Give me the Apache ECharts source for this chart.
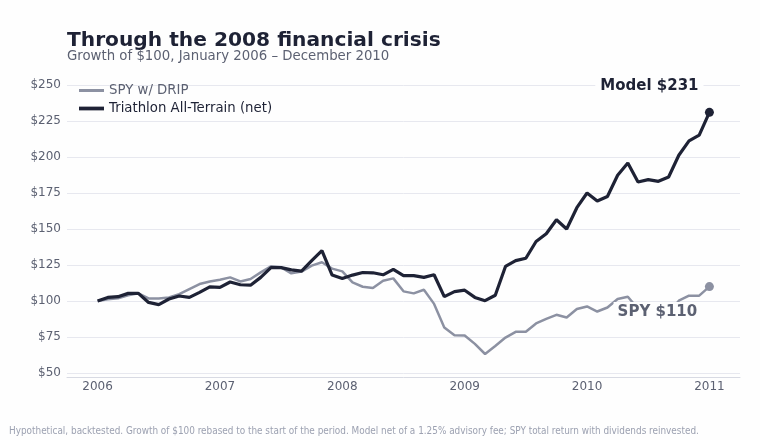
<!DOCTYPE html>
<html>
<head>
<meta charset="utf-8">
<script src="https://cdn.jsdelivr.net/npm/echarts@6/dist/echarts.min.js"></script>
<style>
html,body{margin:0;padding:0;background:#fefefe;}
#c{width:760px;height:440px;}
</style>
</head>
<body>
<div id="c"></div>
<script>
// Month index 0 = start of Jan 2006 (rebased $100), 60 = end of Dec 2010
var startYear = 2006;

var modelName = 'Triathlon All-Terrain (net)';
var spyName = 'SPY w/ DRIP';

var modelValues = [
  100, 102.5, 103, 105.3, 105.3, 99, 97.5, 101.4, 103.5, 102.5, 106, 109.8,
  109.4, 113.2, 111.3, 111, 116.4, 123.2, 123.2, 121.6, 120.8, 128, 135, 118,
  115.6, 118, 119.8, 119.6, 118.2, 122, 117.6, 117.6, 116.4, 118.2, 103, 106.5,
  107.5, 102.5, 100.2, 104, 124, 128, 129.7, 141.3, 146.7, 156.4, 150, 164.8,
  175, 169.4, 172.6, 187.3, 195.9, 182.6, 184.3, 183.1, 186.1, 201.2, 211.2, 215.2,
  231
];

var spyValues = [
  100, 101.2, 101.9, 104, 105.3, 101.8, 101.8, 102.5, 104.8, 108.3, 111.8, 113.6,
  114.8, 116.4, 113.6, 115.3, 119.9, 124.1, 123.4, 119.2, 120.4, 124.6, 126.9, 122.5,
  120.6, 112.9, 109.9, 109, 114.1, 115.7, 106.7, 105.3, 107.8, 98, 81.6, 76.2,
  76.1, 70.2, 63.2, 68.8, 74.6, 78.6, 78.6, 84.4, 87.6, 90.4, 88.5, 94.4,
  96.2, 92.7, 95.5, 101.4, 103, 94.5, 89, 96, 92, 100.2, 103.7, 103.7,
  110
];

var yearTicks = [2006, 2007, 2008, 2009, 2010, 2011];

var FONT = 'DejaVu Sans';
var DARK = '#1e2235';
var GRAY_LINE = '#8c91a2';
var MUTED = '#5c6172';

function pairs(vals) {
  var out = [];
  for (var i = 0; i < vals.length; i++) out.push([startYear + i / 12, vals[i]]);
  return out;
}
var modelData = pairs(modelValues);
var spyData = pairs(spyValues);
var mLast = modelData[modelData.length - 1];
var sLast = spyData[spyData.length - 1];

var chart = echarts.init(document.getElementById('c'), null, {renderer: 'canvas'});
chart.setOption({
  animation: false,
  backgroundColor: '#fefefe',
  textStyle: {fontFamily: FONT},
  title: [
    {text: 'Through the 2008 financial crisis', left: 67, top: 31, padding: 0,
     textStyle: {fontFamily: FONT, fontSize: 20.2, fontWeight: 'bold', color: DARK}},
    {text: 'Growth of $100, January 2006 \u2013 December 2010', left: 67, top: 50, padding: 0,
     textStyle: {fontFamily: FONT, fontSize: 13.3, fontWeight: 'normal', color: MUTED}},
    {text: 'Hypothetical, backtested. Growth of $100 rebased to the start of the period. Model net of a 1.25% advisory fee; SPY total return with dividends reinvested.',
     left: 9, top: 426, padding: 0,
     textStyle: {fontFamily: 'DejaVu Sans Condensed', fontSize: 9.9, fontWeight: 'normal', color: '#9ca1b1'}}
  ],
  legend: {
    orient: 'vertical', left: 79, top: 84, padding: 0,
    itemWidth: 25, itemHeight: 14, itemGap: 5, symbolKeepAspect: true,
    textStyle: {fontFamily: FONT, fontSize: 13.3},
    data: [
      {name: spyName, icon: 'path://M0,0H50V6H0Z', textStyle: {color: MUTED}},
      {name: modelName, icon: 'path://M0,0H50V7.5H0Z', textStyle: {color: DARK}}
    ]
  },
  grid: {left: 67, right: 20, top: 85, bottom: 67, containLabel: false},
  xAxis: {
    type: 'value', min: 2005.75, max: 2011.25, offset: 4,
    axisLine: {show: true, lineStyle: {color: '#d8dae3', width: 1}},
    axisTick: {show: false},
    splitLine: {show: false},
    axisLabel: {customValues: yearTicks, margin: 4, color: MUTED, fontSize: 12, fontFamily: FONT,
      formatter: function (v) { return String(Math.round(v)); }}
  },
  yAxis: {
    type: 'value', min: 50, max: 250, interval: 25,
    axisLine: {show: false}, axisTick: {show: false},
    splitLine: {lineStyle: {color: '#e7e8ef', width: 1}},
    axisLabel: {margin: 6, color: MUTED, fontSize: 12, fontFamily: FONT,
      formatter: function (v) { return '$' + v; }}
  },
  series: [
    {
      name: spyName, type: 'line', data: spyData, symbol: 'none', z: 2,
      lineStyle: {color: GRAY_LINE, width: 2.5}, itemStyle: {color: GRAY_LINE},
      markPoint: {
        symbol: 'circle', symbolSize: 9, z: 6,
        itemStyle: {color: GRAY_LINE},
        label: {show: true, position: 'inside', offset: [-52, 26],
          formatter: 'SPY $' + Math.round(sLast[1]),
          fontFamily: FONT, fontSize: 15, fontWeight: 'bold', color: MUTED,
          backgroundColor: '#fefefe', padding: [3, 4]},
        data: [{coord: sLast}]
      }
    },
    {
      name: modelName, type: 'line', data: modelData, symbol: 'none', z: 3,
      lineStyle: {color: DARK, width: 3.2}, itemStyle: {color: DARK},
      markPoint: {
        symbol: 'circle', symbolSize: 9, z: 6,
        itemStyle: {color: DARK},
        label: {show: true, position: 'inside', offset: [-60, -26],
          formatter: 'Model $' + Math.round(mLast[1]),
          fontFamily: FONT, fontSize: 15, fontWeight: 'bold', color: DARK,
          backgroundColor: '#fefefe', padding: [3, 5]},
        data: [{coord: mLast}]
      }
    }
  ]
});
</script>
</body>
</html>
